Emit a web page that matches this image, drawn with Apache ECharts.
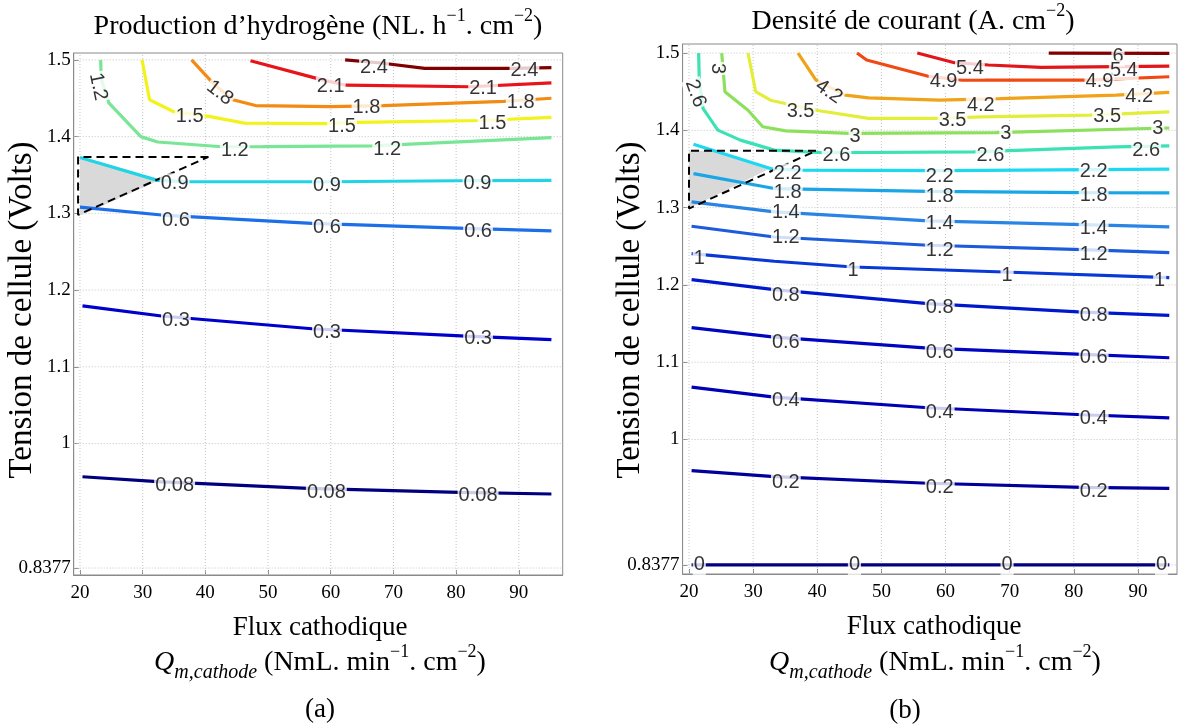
<!DOCTYPE html>
<html><head><meta charset="utf-8">
<script src="https://cdn.jsdelivr.net/npm/echarts@6/dist/echarts.min.js"></script>
<style>html,body{margin:0;padding:0;background:#fff}#c{width:1180px;height:726px}</style>
</head><body><div id="c"></div><script>
// ---------- DATA ----------
const xTicks = [20, 30, 40, 50, 60, 70, 80, 90];
const yTicks = [0.8377, 1, 1.1, 1.2, 1.3, 1.4, 1.5];

// Panel (a): Production d'hydrogène contour lines [flux, tension]
const aLevels = ['0.08', '0.3', '0.6', '0.9', '1.2', '1.5', '1.8', '2.1', '2.4'];
const a_008 = [[20.4,0.9567],[32.4,0.9502],[56.4,0.9416],[80.4,0.9363],[95.2,0.9342]];
const a_03  = [[20.4,1.1794],[33,1.1662],[57,1.1496],[81.6,1.1399],[95.2,1.1355]];
const a_06  = [[20,1.308],[33,1.2978],[57,1.2868],[81.6,1.2803],[95.2,1.2772]];
const a_09  = [[20,1.3727],[32.4,1.343],[37.2,1.3414],[60,1.3412],[80,1.3425],[95.2,1.343]];
const a_12  = [[23.3,1.5],[23.4,1.475],[24.6,1.444],[29.7,1.4],[32.4,1.393],[42.6,1.3868],[49.2,1.387],[66.6,1.388],[95.2,1.3987]];
const a_15  = [[29.9,1.5],[31.1,1.448],[34.8,1.433],[40.8,1.426],[46.2,1.4176],[59.4,1.417],[64.2,1.4185],[84,1.421],[95.2,1.425]];
const a_18  = [[37.8,1.5],[41.4,1.468],[44.4,1.448],[48,1.4405],[60,1.439],[68.4,1.4405],[87.6,1.446],[95.2,1.45]];
const a_21  = [[47.2,1.499],[58.2,1.475],[62.4,1.467],[82.2,1.465],[95.2,1.47]];
const a_24  = [[62.3,1.5],[68,1.496],[75,1.489],[89,1.489],[95.2,1.49]];
const aLines = [a_008, a_03, a_06, a_09, a_12, a_15, a_18, a_21, a_24];
const aLabels = [
  [66.9,1.4903,'2.4'],[90.9,1.486,'2.4'],
  [60,1.465,'2.1'],[84.3,1.4626,'2.1'],
  [42.3,1.457,'1.8'],[65.7,1.4374,'1.8'],[90.3,1.444,'1.8'],
  [37.5,1.4256,'1.5'],[61.8,1.413,'1.5'],[85.8,1.4167,'1.5'],
  [22.9,1.465,'1.2'],[44.7,1.3815,'1.2'],[69,1.3837,'1.2'],
  [35.1,1.3392,'0.9'],[59.4,1.3361,'0.9'],[83.4,1.3392,'0.9'],
  [35.3,1.2904,'0.6'],[59.4,1.2816,'0.6'],[83.5,1.2759,'0.6'],
  [35.3,1.1605,'0.3'],[59.4,1.1443,'0.3'],[83.5,1.1368,'0.3'],
  [35.1,0.9459,'0.08'],[59.3,0.9359,'0.08'],[83.5,0.932,'0.08']
];
const aShade = [[20,1.3727],[32.6,1.343],[20.3,1.298],[20,1.298]];
const aDash  = [[40.5,1.3736],[19.7,1.3736],[19.7,1.298],[40.5,1.3736]];

// Panel (b): Densité de courant contour lines [flux, tension]
const bLevels = ['0','0.2','0.4','0.6','0.8','1','1.2','1.4','1.8','2.2','2.6','3','3.5','4.2','4.9','5.4','6'];
const b_0  = [[20.4,0.8377],[94.9,0.8377]];
const b_02 = [[20.4,0.9598],[33.3,0.9521],[57.3,0.9434],[81.4,0.9382],[94.9,0.9369]];
const b_04 = [[20.4,1.0678],[33.3,1.0548],[57.3,1.0411],[81.4,1.032],[94.9,1.0281]];
const b_06 = [[20.4,1.1447],[33.3,1.1325],[57.3,1.1183],[81.4,1.1101],[94.9,1.1058]];
const b_08 = [[20.4,1.2068],[33.3,1.1939],[57.3,1.1758],[81.4,1.1649],[94.9,1.1606]];
const b_1  = [[20.4,1.2405],[33.3,1.2306],[45.6,1.2232],[69.1,1.2167],[94.9,1.2094]];
const b_12 = [[20.4,1.2759],[33.3,1.262],[57.3,1.2513],[81.4,1.2457],[94.9,1.2418]];
const b_14 = [[20.4,1.3074],[33.3,1.2944],[57.3,1.2828],[81.4,1.2781],[94.9,1.275]];
const b_18 = [[20.7,1.344],[33.3,1.3247],[57.3,1.321],[81.4,1.3195],[94.9,1.319]];
const b_22 = [[20.7,1.382],[32.7,1.3506],[37.4,1.3484],[60,1.348],[94.9,1.3497]];
const b_26 = [[21.5,1.5],[21.6,1.465],[22.2,1.428],[24.5,1.4003],[28,1.3873],[33.3,1.3744],[40.9,1.371],[64.4,1.3722],[86.6,1.3787],[94.9,1.38]];
const b_3  = [[25.1,1.5],[25.6,1.45],[29.2,1.426],[31.5,1.4046],[35.1,1.3994],[45,1.396],[67.9,1.397],[91.3,1.4024],[94.9,1.403]];
const b_35 = [[29.2,1.5],[30.4,1.45],[32.7,1.439],[39.8,1.426],[48,1.4154],[59.1,1.4154],[65.5,1.4175],[82.5,1.4197],[94.9,1.424]];
const b_42 = [[37,1.5],[39.8,1.465],[44.4,1.4456],[48,1.442],[59.1,1.439],[68.5,1.441],[86.6,1.4456],[94.9,1.449]];
const b_49 = [[46.2,1.5],[47.7,1.491],[57.3,1.47],[62.6,1.465],[82,1.465],[94.9,1.4693]];
const b_54 = [[55.6,1.5],[61.4,1.4875],[66.7,1.4845],[74.9,1.4814],[94.9,1.4832]];
const b_6  = [[76.1,1.5],[94.9,1.4996]];
const bLines = [b_0, b_02, b_04, b_06, b_08, b_1, b_12, b_14, b_18, b_22, b_26, b_3, b_35, b_42, b_49, b_54, b_6];
const bLabels = [
  [86.9,1.4953,'6'],
  [63.8,1.48,'5.4'],[87.8,1.478,'5.4'],
  [59.7,1.4629,'4.9'],[84,1.4629,'4.9'],
  [41.8,1.45,'4.2'],[65.5,1.4326,'4.2'],[90.2,1.4434,'4.2'],
  [37.4,1.424,'3.5'],[61.1,1.4132,'3.5'],[85.2,1.4175,'3.5'],
  [24.5,1.48,'3'],[45.9,1.3925,'3'],[69.4,1.396,'3'],[93.1,1.4024,'3'],
  [21,1.4478,'2.6'],[43,1.3679,'2.6'],[67,1.3679,'2.6'],[91.3,1.3735,'2.6'],
  [35.4,1.3441,'2.2'],[59.1,1.3407,'2.2'],[83.1,1.3463,'2.2'],
  [35.4,1.319,'1.8'],[59.1,1.3139,'1.8'],[83.1,1.316,'1.8'],
  [35.1,1.294,'1.4'],[59.1,1.2794,'1.4'],[83.1,1.2729,'1.4'],
  [35.1,1.2608,'1.2'],[59.1,1.2448,'1.2'],[83.1,1.2396,'1.2'],
  [21.6,1.234,'1'],[45.6,1.2189,'1'],[69.6,1.2124,'1'],[93.4,1.206,'1'],
  [35.1,1.1865,'0.8'],[59.1,1.1714,'0.8'],[83.1,1.1606,'0.8'],
  [35.1,1.126,'0.6'],[59.1,1.1131,'0.6'],[83.1,1.1066,'0.6'],
  [35.1,1.0505,'0.4'],[59.1,1.0354,'0.4'],[83.1,1.0268,'0.4'],
  [35.1,0.944,'0.2'],[59.1,0.9382,'0.2'],[83.1,0.933,'0.2'],
  [21.6,0.8377,'0'],[45.8,0.8377,'0'],[69.6,0.8377,'0'],[93.7,0.8377,'0']
];
const bShade = [[20,1.3735],[24.5,1.3735],[32.6,1.3505],[20,1.2988]];
const bDash  = [[39.8,1.3735],[20,1.3735],[20,1.2988],[39.8,1.3735]];

// ---------- STYLE ----------
const aColors = {'0.08':'#00007F','0.3':'#0000CC','0.6':'#1C6FE8','0.9':'#22D3E6','1.2':'#78E696',
  '1.5':'#F2F21C','1.8':'#F28A14','2.1':'#E8141A','2.4':'#7F0000'};
const bColors = {'0':'#000080','0.2':'#00009A','0.4':'#0000B4','0.6':'#0005C0','0.8':'#0018CC','1':'#0838D6',
  '1.2':'#1C5CDC','1.4':'#2A84E4','1.8':'#1AA6E6','2.2':'#1CD8F0','2.6':'#3CE2B4','3':'#8CE05C',
  '3.5':'#E2EE3A','4.2':'#F0A218','4.9':'#F04A14','5.4':'#E2161A','6':'#800000'};
const aRot = {4:-38, 10:-78};
const bRot = {5:-35, 11:-90, 15:-70};
const SERIF = 'Liberation Serif';
const SANS = 'Liberation Sans';

const panels = [
  {grid:{left:73.7, top:53, width:489, height:522}, xMin:19, xMax:97, yMin:0.8286, yMax:1.509,
   levels:aLevels, lines:aLines, colors:aColors, labels:aLabels, rot:aRot, shade:aShade, dash:aDash},
  {grid:{left:682.6, top:44, width:494.4, height:530}, xMin:19, xMax:96.1, yMin:0.826, yMax:1.5117,
   levels:bLevels, lines:bLines, colors:bColors, labels:bLabels, rot:bRot, shade:bShade, dash:bDash}
];

const grids = [], xAxes = [], yAxes = [], series = [];
panels.forEach((p, i) => {
  grids.push(Object.assign({show:true, borderColor:'#8a8a8a', borderWidth:1, backgroundColor:'#fff'}, p.grid));
  xAxes.push({type:'value', gridIndex:i, min:p.xMin, max:p.xMax,
    axisLine:{show:true, onZero:false, lineStyle:{color:'#8a8a8a'}},
    axisTick:{show:true, inside:true, length:5, customValues:xTicks, lineStyle:{color:'#8a8a8a'}},
    axisLabel:{customValues:xTicks, fontFamily:SERIF, fontSize:19, color:'#000', margin:9},
    splitLine:{show:false}});
  yAxes.push({type:'value', gridIndex:i, min:p.yMin, max:p.yMax,
    axisLine:{show:true, onZero:false, lineStyle:{color:'#8a8a8a'}},
    axisTick:{show:true, inside:true, length:5, customValues:yTicks, lineStyle:{color:'#8a8a8a'}},
    axisLabel:{customValues:yTicks, fontFamily:SERIF, fontSize:19, color:'#000', margin:3},
    splitLine:{show:false}});
  const gl = {type:'line', xAxisIndex:i, yAxisIndex:i, silent:true, symbol:'none', z:1,
    lineStyle:{color:'#c4c4c4', width:1, type:[1,2]}};
  yTicks.forEach(t => series.push(Object.assign({}, gl, {data:[[p.xMin,t],[p.xMax,t]]})));
  xTicks.forEach(t => series.push(Object.assign({}, gl, {data:[[t,p.yMin],[t,p.yMax]]})));
  series.push({type:'custom', xAxisIndex:i, yAxisIndex:i, silent:true, z:2, data:p.shade,
    renderItem:(params, api) => {
      if (params.dataIndex !== 0) return null;
      return {type:'polygon', shape:{points:p.shade.map(q => api.coord(q))}, style:{fill:'#d9d9d9'}};
    }});
  p.lines.forEach((d, k) => series.push({type:'line', xAxisIndex:i, yAxisIndex:i, silent:true, symbol:'none', z:3,
    data:d, lineStyle:{color:p.colors[p.levels[k]], width:3.2}}));
  series.push({type:'line', xAxisIndex:i, yAxisIndex:i, silent:true, symbol:'none', z:4,
    data:p.dash, lineStyle:{color:'#000', width:2, type:[8,5]}});
  series.push({type:'scatter', xAxisIndex:i, yAxisIndex:i, silent:true, z:5, symbolSize:0,
    itemStyle:{color:'rgba(0,0,0,0)'},
    data:p.labels.map((l, k) => ({value:[l[0], l[1]], label:{formatter:l[2], rotate:p.rot[k] || 0}})),
    label:{show:true, position:'inside', fontFamily:SANS, fontSize:20, color:'#000',
      backgroundColor:'#fff', padding:[0,1]}});
});

const richT = {
  sup:{fontFamily:SERIF, fontSize:18, lineHeight:18, verticalAlign:'top'},
  sub:{fontFamily:SERIF, fontSize:20, fontStyle:'italic', lineHeight:20, verticalAlign:'bottom'},
  q:{fontFamily:SERIF, fontSize:28, fontStyle:'italic', lineHeight:40}
};
function txt(x, y, text, size, rot) {
  return {type:'text', x:x, y:y, rotation:rot || 0, z:10,
    style:{text:text, rich:richT, fontFamily:SERIF, fontSize:size, lineHeight:40, fill:'#000',
      align:'center', verticalAlign:'middle'}};
}
const graphics = [
  txt(318, 27, 'Production d\u2019hydrogène (NL. h{sup|\u22121}. cm{sup|\u22122})', 28),
  txt(913, 22, 'Densité de courant (A. cm{sup|\u22122})', 28),
  txt(22, 310, 'Tension de cellule (Volts)', 33, Math.PI / 2),
  txt(630, 310, 'Tension de cellule (Volts)', 33, Math.PI / 2),
  txt(320, 628, 'Flux cathodique', 27),
  txt(320, 663, '{q|Q}{sub|m,cathode} (NmL. min{sup|\u22121}. cm{sup|\u22122})', 28),
  txt(320, 710, '(a)', 27),
  txt(934, 627, 'Flux cathodique', 27),
  txt(935, 663, '{q|Q}{sub|m,cathode} (NmL. min{sup|\u22121}. cm{sup|\u22122})', 28),
  txt(905, 711, '(b)', 27)
];

const chart = echarts.init(document.getElementById('c'), null, {renderer:'canvas'});
chart.setOption({animation:false, backgroundColor:'#fff', grid:grids, xAxis:xAxes, yAxis:yAxes,
  series:series, graphic:graphics});
</script></body></html>
